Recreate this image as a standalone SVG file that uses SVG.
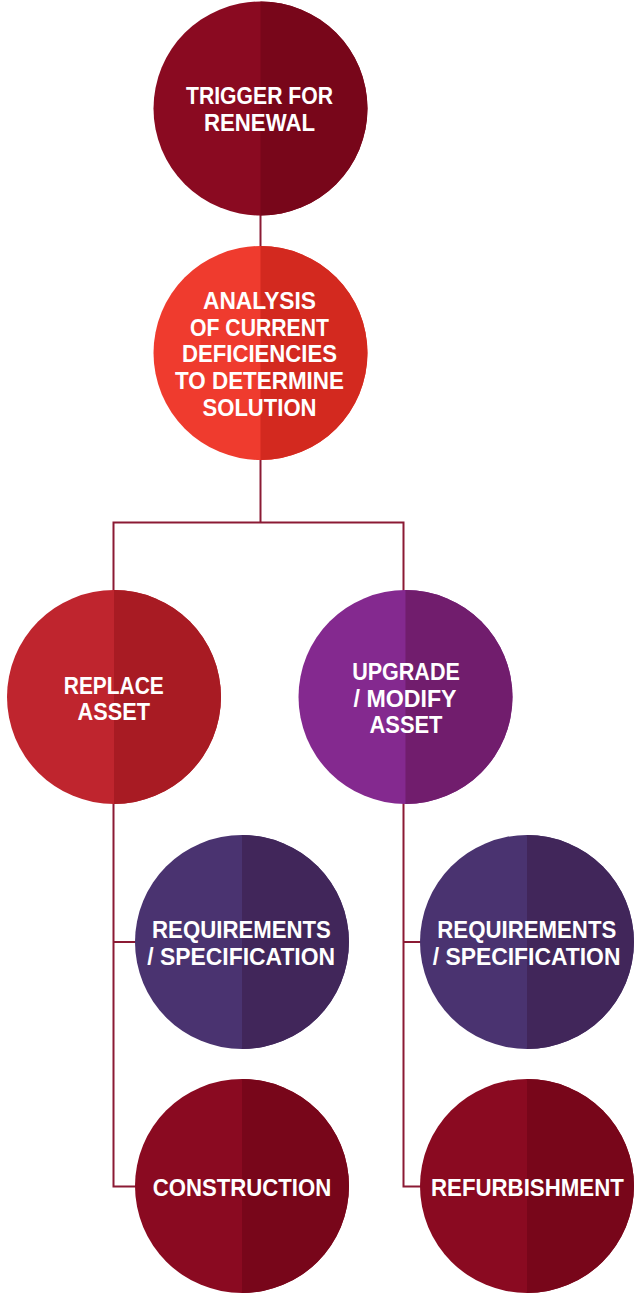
<svg xmlns="http://www.w3.org/2000/svg" width="634" height="1295" viewBox="0 0 634 1295">
<style>
.conn{fill:none;stroke:#8b1a34;stroke-width:2}
.t{font-family:"Liberation Sans",Arial,sans-serif;font-weight:bold;font-size:23px;fill:#ffffff;text-anchor:middle}
.c1l{fill:#8a0a21}.c1d{fill:#78061a}
.c2l{fill:#ef3b2e}.c2d{fill:#d3291f}
.c3l{fill:#bf252e}.c3d{fill:#a81b23}
.c4l{fill:#84298f}.c4d{fill:#711d6d}
.c5l{fill:#4a3370}.c5d{fill:#41265a}
</style>
<rect width="634" height="1295" fill="#ffffff"/>
<g id="connectors">
<path class="conn" d="M260.5 214 V248"/>
<path class="conn" d="M260.5 459 V522.5"/>
<path class="conn" d="M113.5 591 V522.5 H403.5 V591"/>
<path class="conn" d="M113.5 803 V1186.5 H136"/>
<path class="conn" d="M113.5 942 H136"/>
<path class="conn" d="M403.5 803 V1186.5 H421"/>
<path class="conn" d="M403.5 942 H421"/>
</g>
<g id="trigger">
<circle class="c1l" cx="260.5" cy="108.5" r="107"/>
<path class="c1d" d="M260.5 1.5 A107 107 0 0 1 260.5 215.5 Z"/>
<text class="t" x="259.5" y="103.7" textLength="147" lengthAdjust="spacingAndGlyphs">TRIGGER FOR</text>
<text class="t" x="259.5" y="130.7" textLength="111" lengthAdjust="spacingAndGlyphs">RENEWAL</text>
</g>
<g id="analysis">
<circle class="c2l" cx="260.5" cy="353" r="107"/>
<path class="c2d" d="M260.5 246 A107 107 0 0 1 260.5 460 Z"/>
<text class="t" x="259.5" y="309" textLength="113" lengthAdjust="spacingAndGlyphs">ANALYSIS</text>
<text class="t" x="259.5" y="335.7" textLength="139" lengthAdjust="spacingAndGlyphs">OF CURRENT</text>
<text class="t" x="259.5" y="362.3" textLength="155" lengthAdjust="spacingAndGlyphs">DEFICIENCIES</text>
<text class="t" x="259.5" y="389" textLength="169" lengthAdjust="spacingAndGlyphs">TO DETERMINE</text>
<text class="t" x="259.5" y="415.7" textLength="114" lengthAdjust="spacingAndGlyphs">SOLUTION</text>
</g>
<g id="replace">
<circle class="c3l" cx="114" cy="697" r="107"/>
<path class="c3d" d="M114 590 A107 107 0 0 1 114 804 Z"/>
<text class="t" x="113.8" y="694" textLength="100" lengthAdjust="spacingAndGlyphs">REPLACE</text>
<text class="t" x="113.8" y="720" textLength="72.5" lengthAdjust="spacingAndGlyphs">ASSET</text>
</g>
<g id="upgrade">
<circle class="c4l" cx="405.5" cy="697" r="107"/>
<path class="c4d" d="M405.5 590 A107 107 0 0 1 405.5 804 Z"/>
<text class="t" x="406" y="680" textLength="107.7" lengthAdjust="spacingAndGlyphs">UPGRADE</text>
<text class="t" x="405" y="706.7" textLength="103" lengthAdjust="spacingAndGlyphs">/ MODIFY</text>
<text class="t" x="406" y="733.3" textLength="73" lengthAdjust="spacingAndGlyphs">ASSET</text>
</g>
<g id="requirements-left">
<circle class="c5l" cx="242" cy="942" r="107"/>
<path class="c5d" d="M242 835 A107 107 0 0 1 242 1049 Z"/>
<text class="t" x="241.5" y="938.3" textLength="178.8" lengthAdjust="spacingAndGlyphs">REQUIREMENTS</text>
<text class="t" x="241.2" y="965" textLength="187.7" lengthAdjust="spacingAndGlyphs">/ SPECIFICATION</text>
</g>
<g id="requirements-right">
<circle class="c5l" cx="527" cy="942" r="107"/>
<path class="c5d" d="M527 835 A107 107 0 0 1 527 1049 Z"/>
<text class="t" x="526.8" y="938.3" textLength="179" lengthAdjust="spacingAndGlyphs">REQUIREMENTS</text>
<text class="t" x="526.6" y="965" textLength="187.6" lengthAdjust="spacingAndGlyphs">/ SPECIFICATION</text>
</g>
<g id="construction">
<circle class="c1l" cx="242" cy="1186" r="107"/>
<path class="c1d" d="M242 1079 A107 107 0 0 1 242 1293 Z"/>
<text class="t" x="242" y="1196" textLength="178.5" lengthAdjust="spacingAndGlyphs">CONSTRUCTION</text>
</g>
<g id="refurbishment">
<circle class="c1l" cx="527" cy="1186" r="107"/>
<path class="c1d" d="M527 1079 A107 107 0 0 1 527 1293 Z"/>
<text class="t" x="527.4" y="1196" textLength="192.8" lengthAdjust="spacingAndGlyphs">REFURBISHMENT</text>
</g>
</svg>
